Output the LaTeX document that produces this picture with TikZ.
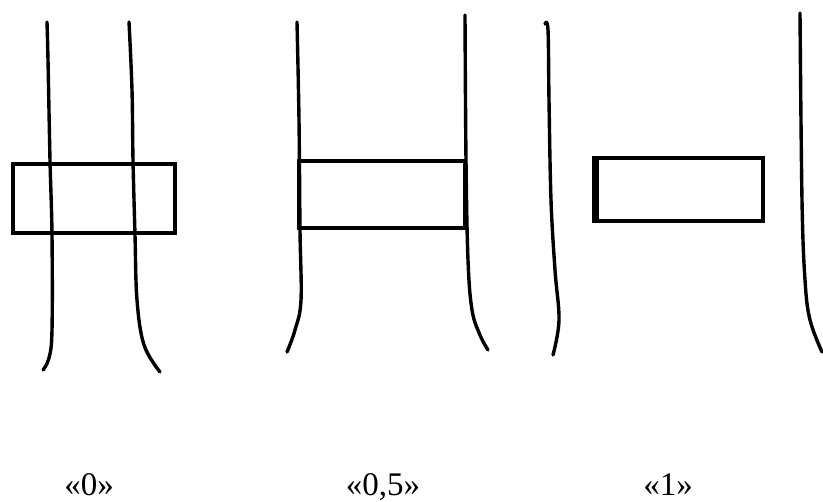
\documentclass[tikz,border=0pt]{standalone}
\usepackage{fontspec}
\setmainfont{Liberation Serif}
\begin{document}
\begin{tikzpicture}[x=1pt,y=-1pt,
  wire/.style={line width=3.4pt,line cap=round,line join=round},
  plate/.style={line width=4.8pt,line join=miter},
  lbl/.style={font=\fontsize{33}{35}\selectfont,anchor=base,inner sep=0pt}]
\useasboundingbox (0,0) rectangle (823,502);
% panel 1
\draw[wire] plot[smooth,tension=0.6] coordinates {(47,22) (48,60) (50,160) (52,235) (52,330) (49,358) (43,370)};
\draw[wire] plot[smooth,tension=0.6] coordinates {(129,22) (132,90) (133,160) (135,235) (137,300) (144,345) (160,372)};
\draw[plate] (13,164) rectangle (175,233);
% panel 2
\draw[wire] plot[smooth,tension=0.6] coordinates {(297,22) (299,120) (300,230) (301,300) (295,330) (287,352)};
\draw[wire] plot[smooth,tension=0.6] coordinates {(465,15) (466,160) (468,260) (472,310) (480,335) (488,350)};
\draw[plate] (299,161) rectangle (465,228);
% panel 3
\draw[wire] plot[smooth,tension=0.6] coordinates {(545,24) (548,30) (549,100) (551,200) (555,270) (559,320) (553,355)};
\draw[wire] plot[smooth,tension=0.6] coordinates {(800,13) (802,200) (805,280) (810,320) (822,352)};
\draw[plate] (597,158) rectangle (763,221);
\draw[line width=3.5pt] (594,156) -- (594,223);
% labels
\node[lbl] (l0) at (89,496) {«0»};
\node[lbl] (l05) at (383,496) {«0,5»};
\node[lbl] (l1) at (668,496) {«1»};
\end{tikzpicture}
\end{document}
